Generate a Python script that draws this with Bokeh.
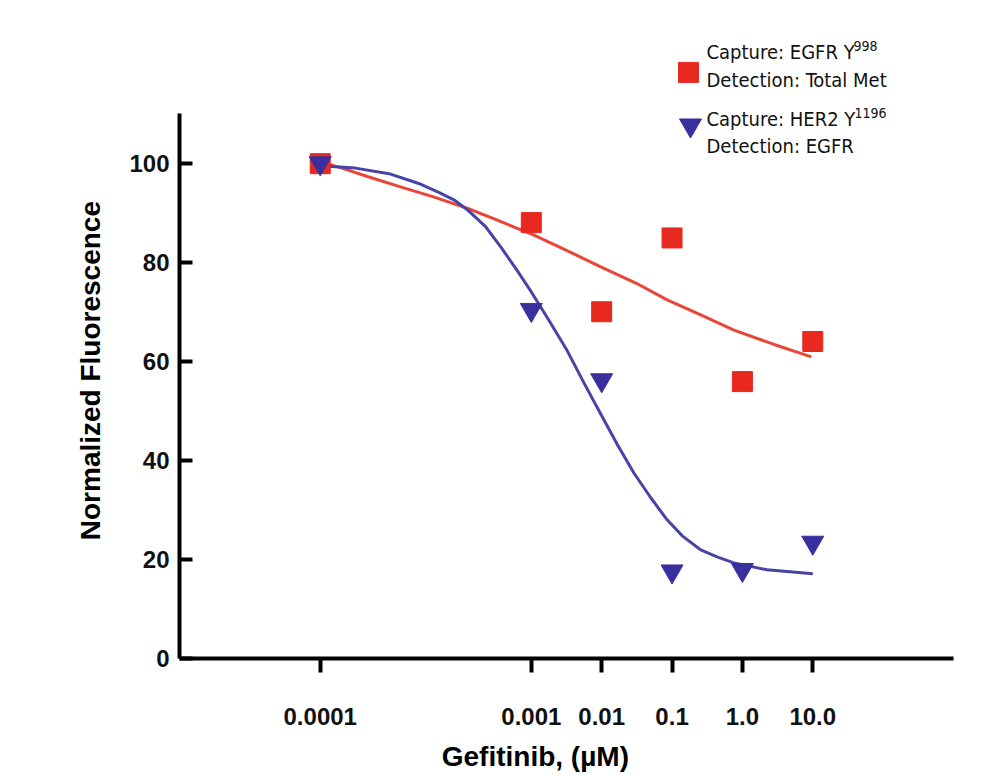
import math
from bokeh.plotting import figure
from bokeh.models import Range1d, FixedTicker, Label
from bokeh.embed import file_html
from bokeh.resources import INLINE

# ---------------- data ----------------
conc = [0.0001, 0.001, 0.01, 0.1, 1.0, 10.0]
tick_labels = ["0.0001", "0.001", "0.01", "0.1", "1.0", "10.0"]
egfr_met = [99.9, 88.0, 70.0, 84.9, 55.9, 64.0]      # Capture EGFR Y998 / Detection Total Met
her2_egfr = [100.0, 70.4, 56.2, 17.6, 17.9, 23.4]    # Capture HER2 Y1196 / Detection EGFR

# fitted curves (x in log10 axis position)
red_curve_x = [-6.0, -5.67, -5.33, -4.86, -4.39, -3.91, -3.5, -2.97, -2.5, -2.02, -1.5, -1.07, -0.6, -0.12, 0.45, 0.98]
red_curve_y = [100.3, 98.9, 97.3, 95.2, 93.2, 90.9, 88.6, 85.5, 82.4, 79.1, 75.7, 72.4, 69.4, 66.3, 63.4, 60.9]
blue_curve_x = [-6.0, -5.5, -5.0, -4.6, -4.3, -4.1, -3.91, -3.65, -3.43, -3.2, -3.0, -2.75, -2.5, -2.25, -2.0, -1.77, -1.54, -1.3, -1.07, -0.85, -0.6, -0.36, -0.12, 0.35, 1.0]
blue_curve_y = [99.5, 99.0, 97.8, 95.9, 94.0, 92.6, 90.6, 87.2, 83.0, 78.3, 74.0, 68.3, 62.4, 55.6, 49.0, 43.0, 37.4, 32.4, 28.0, 24.7, 22.0, 20.5, 19.3, 17.9, 17.1]

x_title = "Gefitinib, (µM)"
y_title = "Normalized Fluorescence"

# axis break: the lowest dose sits two decades further left
BREAK_DECADES = 2
def axis_pos(c):
    x = math.log10(c)
    return x - BREAK_DECADES if c < 0.001 else x

xs = [axis_pos(c) for c in conc]

RED = "#e8291f"
RED_LINE = "#ea4536"
BLUE = "#3a2f9e"
BLUE_LINE = "#4844a6"

# ---------------- figure ----------------
W, H = 1000, 774
X0, X1 = -8.0, 3.0
Y0, Y1 = 0.0, 128.8
FL, FR, FT, FB = 179, 953, 20, 659   # frame edges in canvas px

p = figure(width=W, height=H, output_backend="svg", toolbar_location=None,
           x_range=Range1d(X0, X1), y_range=Range1d(Y0, Y1),
           min_border_left=FL, min_border_right=W - FR,
           min_border_top=FT, min_border_bottom=H - FB)
p.outline_line_color = None
p.xgrid.visible = False
p.ygrid.visible = False
p.background_fill_color = "white"
p.border_fill_color = "white"

def px_x(px):
    return X0 + (px - FL) * (X1 - X0) / (FR - FL)
def px_y(py):
    return Y0 + (FB - py) * (Y1 - Y0) / (FB - FT)

# curves
p.line(red_curve_x, red_curve_y, line_color=RED_LINE, line_width=3)
p.line(blue_curve_x, blue_curve_y, line_color=BLUE_LINE, line_width=3)

# points
p.scatter(xs, egfr_met, marker="square", size=20, fill_color=RED, line_color=RED)
p.scatter(xs, her2_egfr, marker="inverted_triangle", size=22, fill_color=BLUE, line_color=BLUE)

# axes
p.xaxis.ticker = FixedTicker(ticks=xs)
p.xaxis.major_label_overrides = {x: t for x, t in zip(xs, tick_labels)}
p.yaxis.ticker = FixedTicker(ticks=[0, 20, 40, 60, 80, 100])
p.yaxis.bounds = (0, 110)
# the original titles sit off the frame centre; pad with no-break spaces to shift them
PAD = "\u00a0" * 8
p.xaxis.axis_label = x_title + PAD
p.yaxis.axis_label = y_title + PAD

for ax in (p.xaxis, p.yaxis):
    ax.axis_line_width = 4
    ax.axis_line_color = "black"
    ax.major_tick_line_width = 4
    ax.major_tick_line_color = "black"
    ax.minor_tick_line_color = None
    ax.major_label_text_font = "Liberation Sans"
    ax.major_label_text_font_style = "bold"
    ax.major_label_text_font_size = "24px"
    ax.major_label_text_color = "#111111"
    ax.axis_label_text_font = "Liberation Sans"
    ax.axis_label_text_font_style = "bold"
    ax.axis_label_text_font_size = "28px"
    ax.axis_label_text_color = "black"

p.xaxis.major_tick_out = 14
p.xaxis.major_tick_in = 0
p.xaxis.major_label_standoff = 35
p.xaxis.axis_label_standoff = 13

p.yaxis.major_tick_out = 0
p.yaxis.major_tick_in = 13
p.yaxis.major_label_standoff = 10
p.yaxis.axis_label_standoff = 20

# ---------------- legend (drawn manually) ----------------
leg_marker_x = [px_x(688), px_x(690)]
leg_marker_y = [px_y(72), px_y(125)]
p.scatter([leg_marker_x[0]], [leg_marker_y[0]], marker="square", size=20, fill_color=RED, line_color=RED)
p.scatter([leg_marker_x[1]], [leg_marker_y[1]], marker="inverted_triangle", size=22, fill_color=BLUE, line_color=BLUE)

LEG_FONT = "DejaVu Sans Condensed"
legend_lines = [("Capture: EGFR Y", 52), ("Detection: Total Met", 80),
                ("Capture: HER2 Y", 119), ("Detection: EGFR", 146)]
for txt, py in legend_lines:
    p.add_layout(Label(x=px_x(706), y=px_y(py), text=txt, text_font=LEG_FONT,
                       text_font_size="20px", text_baseline="middle", text_align="left",
                       text_color="#111111"))
supers = [("998", 853, 46), ("1196", 854, 113)]
for txt, pxx, py in supers:
    p.add_layout(Label(x=px_x(pxx), y=px_y(py), text=txt, text_font=LEG_FONT,
                       text_font_size="14px", text_baseline="middle", text_align="left",
                       text_color="#111111"))

open("out.html", "w").write(file_html(p, INLINE))
